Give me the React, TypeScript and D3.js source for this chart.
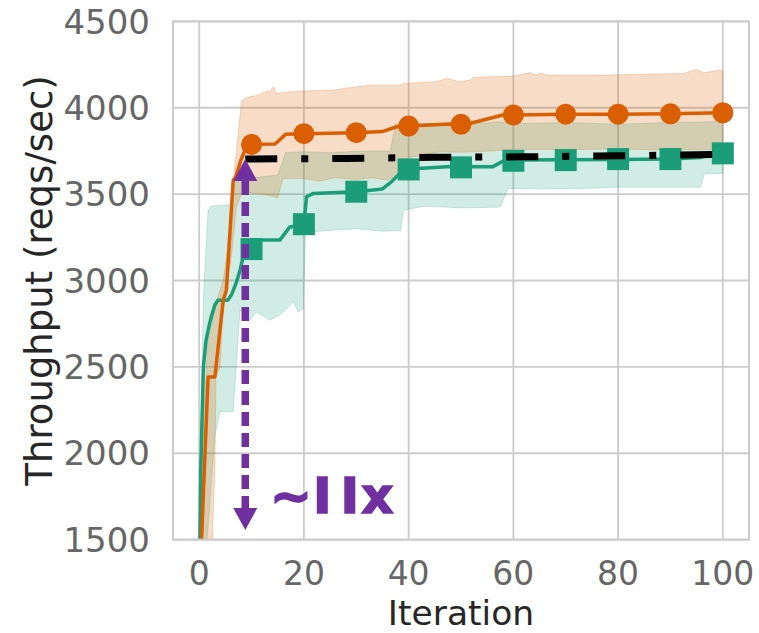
import React from "react";
import * as d3 from "d3";

// Throughput over tuning iterations: two tuners (mean with min/max band) and a reference baseline.
const xTicks = [0, 20, 40, 60, 80, 100];
const yTicks = [1500, 2000, 2500, 3000, 3500, 4000, 4500];

const orangeMeanIter = [0, 1.7, 3, 4.6, 5.2, 5.9, 6.5, 7, 8, 9, 10, 14.5, 16.5, 20, 30, 35, 37.7, 40, 48, 50, 52, 58, 60, 70, 80, 90, 100];
const orangeMean = [1160, 2442, 2442, 2886, 2944, 3291, 3581, 3600, 3700, 3775, 3788, 3790, 3846, 3850, 3856, 3862, 3890, 3894, 3906, 3904, 3912, 3958, 3958, 3963, 3963, 3965, 3971];

const orangeUpperIter = [0, 1, 2, 3.5, 4.6, 5.9, 6.5, 8.1, 9, 11.3, 12.2, 13.5, 14.2, 14.8, 16, 19.9, 25.6, 27.5, 32.6, 38.3, 39, 45.3, 47.3, 49.8, 51.7, 52.4, 60, 63.2, 64.4, 65.1, 66.4, 76.5, 92.5, 95, 96.3, 99.5, 100];
const orangeUpper = [1550, 2300, 2800, 2900, 3000, 3291, 3581, 4040, 4060, 4073, 4089, 4097, 4122, 4083, 4089, 4097, 4103, 4112, 4131, 4131, 4141, 4151, 4170, 4151, 4160, 4176, 4184, 4203, 4189, 4203, 4189, 4189, 4199, 4222, 4203, 4218, 4210];

const orangeLowerIter = [0, 2.5, 3, 3.2, 4, 4.6, 6, 7.1, 8.4, 10, 12, 15, 16, 20, 23, 26, 30, 33, 36, 38.5, 40, 46, 50, 55, 60, 70, 80, 90, 100];
const orangeLower = [1000, 1500, 1900, 2440, 2500, 2920, 3100, 3427, 3523, 3505, 3500, 3480, 3590, 3590, 3575, 3595, 3585, 3595, 3580, 3620, 3710, 3745, 3742, 3748, 3760, 3758, 3762, 3755, 3760];

const greenMeanIter = [0, 0.3, 0.8, 1.3, 2, 3, 3.6, 5.5, 6.2, 7, 7.8, 8.4, 9, 10, 15.4, 17.3, 20, 20.5, 21.8, 30, 35, 36.7, 38.3, 40, 48.2, 56, 58.4, 80, 90, 95.7, 98, 100];
const greenMean = [1100, 1900, 2500, 2650, 2753, 2860, 2886, 2886, 2920, 2980, 3060, 3137, 3215, 3234, 3234, 3310, 3326, 3485, 3504, 3514, 3530, 3571, 3620, 3645, 3660, 3658, 3697, 3700, 3703, 3712, 3730, 3736];

const greenUpperIter = [0, 0.8, 1.7, 2.2, 6, 7, 8.5, 12, 15, 16.5, 20, 25, 30, 36.5, 37.5, 43.4, 46, 50, 55, 57, 60, 70, 80, 90, 100];
const greenUpper = [1500, 2900, 3407, 3430, 3440, 3570, 3590, 3600, 3610, 3740, 3746, 3740, 3748, 3750, 3905, 3910, 3910, 3905, 3912, 3919, 3908, 3915, 3905, 3915, 3920];

const greenLowerIter = [0, 2, 3, 4, 6.5, 7.5, 7.8, 9.7, 11, 13.5, 15.4, 18, 18.9, 19.9, 20.3, 25, 30, 35, 38.5, 39, 43, 46, 50, 57.5, 59, 70, 80, 95.7, 96.5, 100];
const greenLower = [900, 1700, 2100, 2240, 2240, 2690, 2830, 2770, 2818, 2770, 2800, 2876, 2818, 2838, 3280, 3290, 3300, 3285, 3290, 3407, 3430, 3427, 3420, 3425, 3533, 3530, 3540, 3540, 3620, 3620];

const markerIter = [10, 20, 30, 40, 50, 60, 70, 80, 90, 100];
const orangeMarkers = [3788, 3850, 3856, 3894, 3904, 3958, 3963, 3963, 3965, 3971];
const greenMarkers = [3182, 3326, 3514, 3643, 3655, 3693, 3697, 3703, 3703, 3736];

const baselineIter = [8.8, 28, 45, 62, 80, 100];
const baselineVal = [3703, 3707, 3713, 3716, 3722, 3730];

// Speed-up annotation: vertical double arrow at the baseline's first iteration.
const arrowIter = 8.8;
const arrowTop = 3703;
const arrowBottom = 1555;
const speedupLabel = ["~", "I", "I", "x"];

const ORANGE = "#d95f02";
const GREEN = "#1b9e77";
const PURPLE = "#7030a0";
const GRID = "#cccccc";
const FONT = "DejaVu Sans";

const zip = (xs: number[], ys: number[]) => xs.map((v, i) => [v, ys[i]] as [number, number]);

export default function App() {
  const left = 173, right = 749, top = 21.4, bottom = 539.6;
  const x = d3.scaleLinear().domain([-5, 105]).range([left, right]);
  const y = d3.scaleLinear().domain([1500, 4500]).range([bottom, top]);
  const line = d3.line<[number, number]>().x((d) => x(d[0])).y((d) => y(d[1]));

  const band = (ui: number[], u: number[], li: number[], l: number[]) =>
    line([...zip(ui, u), ...zip(li, l).reverse()]) + "Z";

  const ax = x(arrowIter);
  const aTop = y(arrowTop);
  const aBot = y(arrowBottom);
  const headL = 22, headW = 12;

  return (
    <svg width={759} height={633} style={{ position: "absolute", left: 0, top: 0, background: "#fff" }} fontFamily={FONT}>
      <defs>
        <clipPath id="plotArea">
          <rect x={left} y={top} width={right - left} height={bottom - top} />
        </clipPath>
      </defs>
      <rect x={left} y={top} width={right - left} height={bottom - top} fill="#fff" />
      {xTicks.map((t) => (
        <line key={"gx" + t} x1={x(t)} x2={x(t)} y1={top} y2={bottom} stroke={GRID} strokeWidth={1.8} />
      ))}
      {yTicks.map((t) => (
        <line key={"gy" + t} x1={left} x2={right} y1={y(t)} y2={y(t)} stroke={GRID} strokeWidth={1.8} />
      ))}

      <g clipPath="url(#plotArea)">
        <path d={band(greenUpperIter, greenUpper, greenLowerIter, greenLower)} fill={GREEN} fillOpacity={0.2} stroke={GREEN} strokeOpacity={0.2} strokeWidth={1} />
        <path d={band(orangeUpperIter, orangeUpper, orangeLowerIter, orangeLower)} fill={ORANGE} fillOpacity={0.22} stroke={ORANGE} strokeOpacity={0.22} strokeWidth={1} />

        <path d={line(zip(greenMeanIter, greenMean)) || ""} fill="none" stroke={GREEN} strokeWidth={3.5} strokeLinejoin="round" />
        {markerIter.map((it, i) => (
          <rect key={"gm" + it} x={x(it) - 11} y={y(greenMarkers[i]) - 11} width={22} height={22} fill={GREEN} />
        ))}

        <path d={line(zip(orangeMeanIter, orangeMean)) || ""} fill="none" stroke={ORANGE} strokeWidth={3.5} strokeLinejoin="round" />
        {markerIter.map((it, i) => (
          <circle key={"om" + it} cx={x(it)} cy={y(orangeMarkers[i])} r={10.5} fill={ORANGE} />
        ))}

        <path d={line(zip(baselineIter, baselineVal)) || ""} fill="none" stroke="#000" strokeWidth={7} strokeDasharray="32 24 7 24" />
      </g>

      {/* double-headed dashed arrow */}
      <line x1={ax} x2={ax} y1={aTop + headL} y2={aBot - headL} stroke={PURPLE} strokeWidth={7.5} strokeDasharray="14 7" />
      <path d={`M${ax},${aTop}L${ax - headW},${aTop + headL}L${ax + headW},${aTop + headL}Z`} fill={PURPLE} />
      <path d={`M${ax},${aBot}L${ax - headW},${aBot - headL}L${ax + headW},${aBot - headL}Z`} fill={PURPLE} />
      <text x={270} y={512.7} fill={PURPLE} stroke={PURPLE} strokeWidth={1.6} fontSize={50} fontWeight="bold" fontFamily={FONT}>
        <tspan>{speedupLabel[0]}</tspan>
        <tspan dx={1}>{speedupLabel[1]}</tspan>
        <tspan dx={9}>{speedupLabel[2]}</tspan>
        <tspan dx={2}>{speedupLabel[3]}</tspan>
      </text>

      <rect x={left} y={top} width={right - left} height={bottom - top} fill="none" stroke={GRID} strokeWidth={2} />

      {yTicks.map((t) => (
        <text key={"ty" + t} x={150} y={y(t)} dy="0.36em" textAnchor="end" fontSize={34} fill="#666">
          {t}
        </text>
      ))}
      {xTicks.map((t) => (
        <text key={"tx" + t} x={x(t)} y={585} textAnchor="middle" fontSize={33} fill="#666">
          {t}
        </text>
      ))}
      <text x={(left + right) / 2} y={625} textAnchor="middle" fontSize={34.5} fill="#262626">
        Iteration
      </text>
      <text transform={`translate(52,${(top + bottom) / 2}) rotate(-90)`} textAnchor="middle" fontSize={37} fill="#262626">
        Throughput (reqs/sec)
      </text>
    </svg>
  );
}
